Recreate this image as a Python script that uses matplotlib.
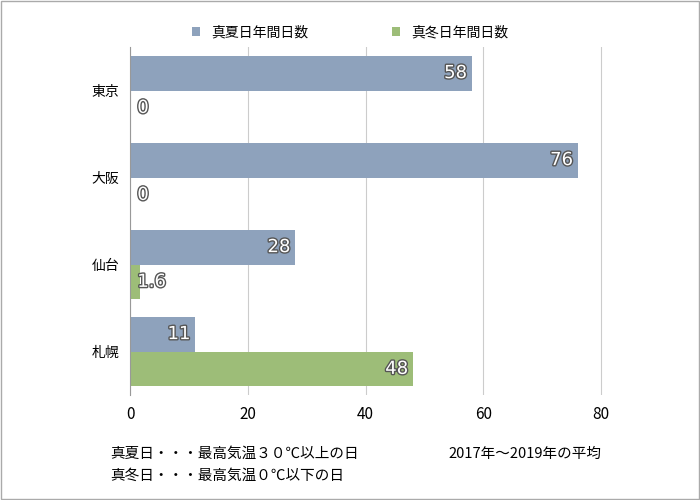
import matplotlib.pyplot as plt
import matplotlib.patheffects as pe
import numpy as np

plt.rcParams['font.family'] = 'Noto Sans CJK JP'

cities = ['東京', '大阪', '仙台', '札幌']
summer = [58, 76, 28, 11]
winter = [0, 0, 1.6, 48]
summer_label = '真夏日年間日数'
winter_label = '真冬日年間日数'
c_sum = '#8EA2BC'
c_win = '#9DBD78'

fig = plt.figure(figsize=(7, 5), dpi=100)
ax = fig.add_axes([0.186, 0.21, 0.757, 0.696])

y = np.arange(len(cities))
h = 0.4
ax.barh(y - h / 2, summer, height=h, color=c_sum, label=summer_label)
ax.barh(y + h / 2, winter, height=h, color=c_win, label=winter_label)

fx = [pe.withStroke(linewidth=2, foreground='#555555')]
for yy, vs, vw in zip(y, summer, winter):
    for off, v in ((-h / 2, vs), (h / 2, vw)):
        txt = f'{v:g}'
        if v > 5:
            ax.text(v - 0.8, yy + off, txt, ha='right', va='center', color='white',
                    fontsize=13, family='DejaVu Sans', path_effects=fx)
        else:
            ax.text(1.2, yy + off, txt, ha='left', va='center', color='white',
                    fontsize=13, family='DejaVu Sans', path_effects=fx)

ax.set_xlim(0, 90)
ax.set_ylim(len(cities) - 0.5, -0.5)
ax.set_xticks([0, 20, 40, 60, 80])
ax.set_yticks(y)
ax.set_yticklabels(cities, fontsize=10)
ax.tick_params(length=0, pad=8)
ax.tick_params(axis='x', labelsize=11)
ax.xaxis.grid(True, color='#cccccc', lw=0.8)
ax.set_axisbelow(True)
for s in ['top', 'right', 'bottom']:
    ax.spines[s].set_visible(False)
ax.spines['left'].set_color('#999999')

fig.legend(loc='upper center', bbox_to_anchor=(0.5, 0.975), ncol=2, frameon=False,
           fontsize=10, handlelength=0.6, handleheight=0.6, columnspacing=6)

fig.text(0.157, 0.085, '真夏日・・・最高気温３０℃以上の日', fontsize=10.5)
fig.text(0.157, 0.04, '真冬日・・・最高気温０℃以下の日', fontsize=10.5)
fig.text(0.64, 0.085, '2017年～2019年の平均', fontsize=10.5)

fig.patches.append(plt.Rectangle((0.002, 0.002), 0.996, 0.996, transform=fig.transFigure,
                                 fill=False, edgecolor='#aaaaaa', lw=1))
fig.savefig('out.png', dpi=100)
